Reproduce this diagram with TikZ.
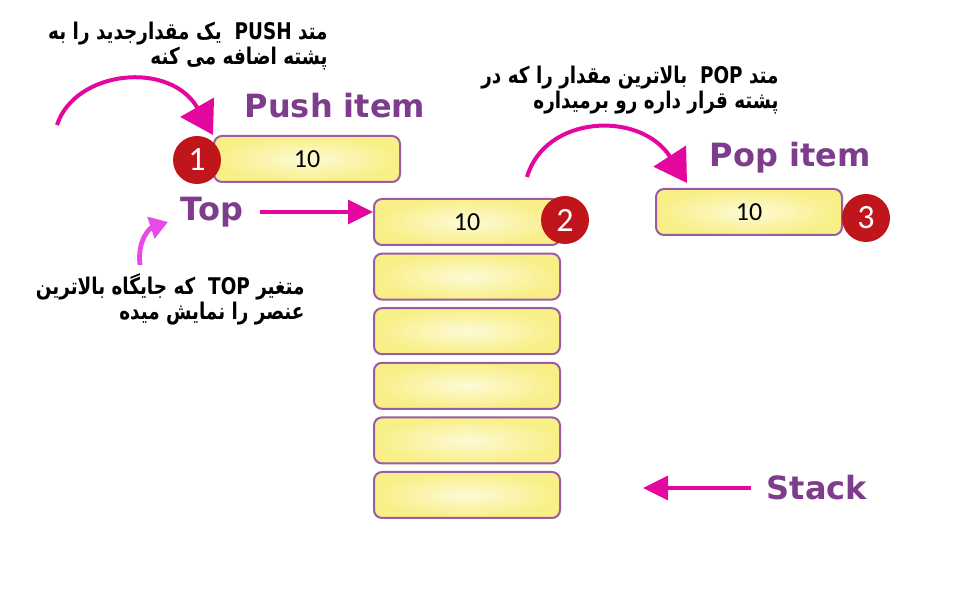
\documentclass[tikz,border=0pt]{standalone}
\usepackage{fontspec}
\setmainfont{Carlito}
\newfontfamily\labelfont{DejaVu Sans}
\newfontfamily\farsifont[Script=Arabic, FakeStretch=0.8]{DejaVu Sans}
\TeXXeTstate=1
\usepackage{xcolor}
\usetikzlibrary{positioning,arrows.meta}

\definecolor{cellborder}{HTML}{9A5CA5}
\definecolor{cellfill}{HTML}{F8EF86}
\definecolor{cellglow}{HTML}{FDFAD6}
\definecolor{labelpurple}{HTML}{7D3C8C}
\definecolor{arrowpink}{HTML}{E3079F}
\definecolor{softpink}{HTML}{E84AEA}
\definecolor{badgered}{HTML}{C0161B}

\begin{document}
\begin{tikzpicture}[
  x=0.5pt, y=-0.5pt,
  cell/.style={draw=cellborder, line width=1pt, rounded corners=4pt, shading=radial,
    inner color=cellglow, outer color=cellfill, minimum width=93pt, minimum height=23pt,
    font=\fontsize{13}{15}\selectfont},
  badge/.style={circle, fill=badgered, text=white, minimum size=24pt, inner sep=0pt,
    font=\fontsize{17}{17}\selectfont},
  tag/.style={text=labelpurple, font=\labelfont\bfseries\fontsize{16}{18}\selectfont, inner sep=1pt},
  note/.style={align=right, font=\farsifont\bfseries\fontsize{11.5}{12.5}\selectfont, inner sep=0pt},
  arr/.style={draw=arrowpink, line width=1.6pt, -{Triangle[length=12.5pt,width=12pt]}},
  bigarr/.style={draw=arrowpink, line width=2pt, -{Triangle[length=16pt,width=19pt]}}
]
\useasboundingbox (0,0) rectangle (971,593);

% push side
\node[cell] (push) at (307,159) {10};
\node[badge] (b1) at (197,160) {1};
\node[tag] (pushlbl) at (335,106) {Push item};
\node[note, anchor=east] (pushnote) at (328,46)
  {\beginR متد \beginL PUSH\endL{} \ یک مقدارجدید را به\endR\\\beginR پشته اضافه می کنه\endR};

% stack
\node[cell] (s1) at (467,222) {10};
\node[cell, below=3.3pt of s1] (s2) {};
\node[cell, below=3.3pt of s2] (s3) {};
\node[cell, below=3.3pt of s3] (s4) {};
\node[cell, below=3.3pt of s4] (s5) {};
\node[cell, below=3.3pt of s5] (s6) {};
\node[badge] (b2) at (565,220) {2};
\node[tag] (toplbl) at (212,212) {Top};
\node[tag] (stacklbl) at (817,488) {Stack};
\node[note, anchor=east] (topnote) at (305,299)
  {\beginR متغیر \beginL TOP\endL{} \ که جایگاه بالاترین\endR\\\beginR عنصر را نمایش میده\endR};

% pop side
\node[cell] (pop) at (749,212) {10};
\node[badge] (b3) at (866,218) {3};
\node[tag] (poplbl) at (790,158) {Pop item};
\node[note, anchor=east] (popnote) at (779,90)
  {\beginR متد \beginL POP\endL{} \ بالاترین مقدار را که در\endR\\\beginR پشته قرار داره رو برمیداره\endR};

\coordinate (pushstart) at (57,125);
\coordinate (popstart) at (527,177);
\coordinate (poptip) at (687,183);
\coordinate (notestart) at (140,265);
\coordinate (notetip) at (168,222);
\coordinate (stacktip) at (643,488);

\draw[bigarr] (pushstart) .. controls (75,70) and (170,60) .. (push.north west);
\draw[bigarr] (popstart) .. controls (545,115) and (640,110) .. (poptip);
\draw[arr, shorten <=7pt] (toplbl.east) -- (toplbl.east -| s1.west);
\draw[arr, shorten <=7pt] (stacklbl) -- (stacktip);
\draw[draw=softpink, line width=2.4pt, -{Triangle[length=9pt,width=11pt]}]
  (notestart) .. controls (137,240) and (150,228) .. (notetip);
\end{tikzpicture}
\end{document}
